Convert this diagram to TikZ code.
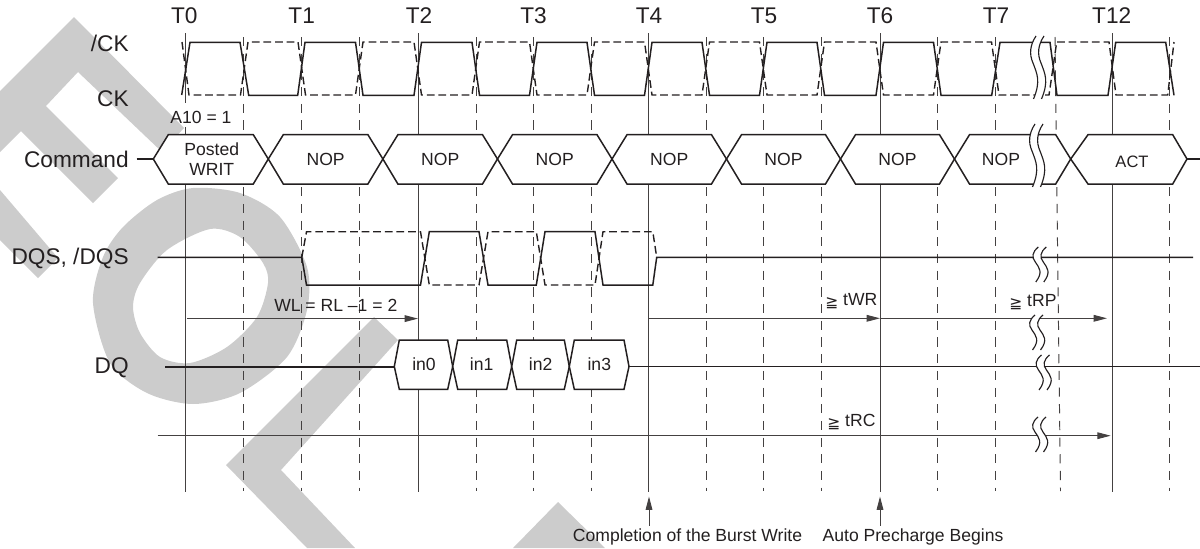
\documentclass[tikz,border=0pt]{standalone}
\usepackage{xcolor}
\usepackage{fontspec}
\setmainfont{Liberation Sans}
\newfontfamily\symfont{DejaVu Sans}
\usetikzlibrary{arrows.meta}
\definecolor{ink}{HTML}{231F20}
\definecolor{wmark}{HTML}{CCCCCC}
\tikzset{
  sigline/.style={draw=ink, line width=0.85pt, line join=miter},
  sigdash/.style={draw=ink, line width=0.8pt, dash pattern=on 4.4pt off 2.2pt},
  gridsolid/.style={draw=ink!85, line width=0.55pt},
  griddash/.style={draw=ink!85, line width=0.55pt, dash pattern=on 5.2pt off 4.3pt},
  sighex/.style={draw=ink, fill=white, line width=0.85pt},
  arr/.style={draw=ink!85, line width=0.55pt, -{Triangle[length=7.6pt,width=3.8pt]}},
  biglabel/.style={font=\fontsize{12.9}{14}\selectfont, text=ink, inner sep=0pt},
  midlabel/.style={font=\fontsize{10}{11.6}\selectfont, text=ink, inner sep=0pt, align=center},
}
\newcommand{\atleast}{\raisebox{-1.6pt}{\symfont\fontsize{8.8}{10}\selectfont ≧}}
% double wavy break mark, x / top y / height factor
\newcommand{\wavebreak}[3]{
  \begin{scope}[shift={(#1,#2)},yscale=#3]
    \fill[white] (0,0) .. controls (-6,5) and (-7,10) .. (-3,15) .. controls (1,21) and (5,25) .. (-2.5,35)
      -- (5.5,35) .. controls (13,25) and (9,21) .. (5,15) .. controls (1,10) and (2,5) .. (8,0) -- cycle;
    \draw[ink,line width=0.65pt] (0,0) .. controls (-6,5) and (-7,10) .. (-3,15) .. controls (1,21) and (5,25) .. (-2.5,35);
    \draw[ink,line width=0.65pt] (8,0) .. controls (2,5) and (1,10) .. (5,15) .. controls (9,21) and (13,25) .. (5.5,35);
  \end{scope}
}
\begin{document}
\begin{tikzpicture}[x=0.02cm,y=-0.02cm]
  \useasboundingbox (0,0) rectangle (1200,548);
  % watermark
  \fill[wmark] (0,91) -- (74,17) -- (184,128) -- (162,152) -- (78,72) -- (46,106) -- (118,178)
    -- (93,203) -- (21,131) -- (0,152) -- cycle;
  \fill[wmark] (0,190) -- (58,258) -- (38,278) -- (0,240) -- cycle;
  \fill[wmark,even odd rule]
    plot[smooth cycle] coordinates {(193,188) (240,193) (280,217) (307,267) (307,310) (287,357)
      (240,393) (193,404) (147,393) (110,363) (93,303) (103,257) (123,227) (157,200)}
    plot[smooth cycle] coordinates {(210,229) (240,237) (263,263) (268,283) (257,317) (227,347)
      (190,363) (160,357) (140,333) (133,307) (140,283) (167,250)};
  \fill[wmark] (374,317) -- (398,340) -- (281,470) -- (355,548) -- (307,548) -- (226,465) -- cycle;
  \fill[wmark] (558,502) -- (513,548) -- (605,548) -- cycle;
  % clock grid
  \foreach \x in {243.5,301.5,359.5,476.5,533.5,591.5,706.5,763.5,821.5,937.5,995.5,1169.5}
    {\draw[griddash] (\x,37) -- (\x,491);}
  \draw[griddash] (1055,37) -- (1060.5,491);
  \foreach \x in {418.5,648.5,880.5,1112.5}
    {\draw[gridsolid] (\x,33) -- (\x,492);}
  \draw[gridsolid] (185.5,33) -- (185.5,103);
  \draw[gridsolid] (185.5,127) -- (185.5,492);
  % clock pair
  \draw[sigdash] (182,42) -- (189,95) -- (240.5,95) -- (248,42) -- (298,42) -- (305.5,95) -- (355.5,95)
    -- (363,42) -- (414,42) -- (421.5,95) -- (472,95) -- (479.5,42) -- (529.5,42) -- (537,95)
    -- (587,95) -- (594.5,42) -- (644.5,42) -- (652,95) -- (702,95) -- (709.5,42) -- (759.5,42)
    -- (767,95) -- (817,95) -- (824.5,42) -- (876,42) -- (883.5,95) -- (933.5,95) -- (941,42)
    -- (991.5,42) -- (999,95) -- (1049,95) -- (1056.7,42) -- (1109,42) -- (1116,95) -- (1167.7,95) -- (1174,42);
  \draw[sigline] (181.7,95) -- (190,42.3) -- (240,42.3) -- (248.7,95.3) -- (297.7,95.3) -- (305,42.3)
    -- (355.5,42.3) -- (363,95.3) -- (414,95.3) -- (421.5,42.3) -- (472,42.3) -- (479.5,95.3) -- (529.5,95.3)
    -- (537,42.3) -- (587,42.3) -- (594.5,95.3) -- (644.5,95.3) -- (652,42.3) -- (702,42.3) -- (709.5,95.3)
    -- (759.5,95.3) -- (767,42.3) -- (817,42.3) -- (824.5,95.3) -- (876,95.3) -- (883.5,42.3) -- (933.5,42.3)
    -- (941,95.3) -- (991.7,95.3) -- (1000,42.3) -- (1050,42.3) -- (1057,95.3) -- (1108,95.3) -- (1115.7,42.3)
    -- (1165.7,42.3) -- (1174,95.3);
  \wavebreak{1036}{36}{1.8}
  \node[biglabel,anchor=east] (ckbar) at (129,43) {/CK};
  \node[biglabel,anchor=east] (ck) at (129,99) {CK};
  % clock names
  \foreach \n/\x in {T0/184.3,T1/301.7,T2/419,T3/533.5,T4/649,T5/764,T6/880,T7/996,T12/1111.7}
    {\node[biglabel] (lab\n) at (\x,16) {\n};}
  % command row
  \node[biglabel,anchor=east] (cmd) at (129,159) {Command};
  \coordinate (cmdin) at (136.7,159);
  \coordinate (cmdtip) at (153.3,159);
  \coordinate (cmdout) at (1200,159);
  \coordinate (cmdend) at (1187,159);
  \draw[sigline] (cmdin) -- (cmdtip);
  \draw[sigline] (cmdend) -- (cmdout);
  \foreach \a/\b in {153.3/268.3,268.3/382.9,382.9/497.5,497.5/612,612/726.5,726.5/840.5,840.5/954.5,954.5/1070.7}
    {\draw[sighex] (\a,159) -- ({\a+15},134.7) -- ({\b-15},134.7) -- (\b,159) -- ({\b-15},184) -- ({\a+15},184) -- cycle;}
  \draw[sighex] (1070.7,159) -- (1088,134.7) -- (1172.7,134.7) -- (1187,159) -- (1172.7,184) -- (1088,184) -- cycle;
  \node[midlabel] (posted) at (211.7,159) {Posted\\WRIT};
  \foreach \x in {325.6,440.2,554.7,669.2,783.5,897.5,1001}
    {\node[midlabel] (nop\x) at (\x,159.5) {NOP};}
  \node[midlabel,font=\fontsize{9.4}{11}\selectfont] (act) at (1132,161.5) {ACT};
  \wavebreak{1035}{124}{1.8}
  \node[midlabel] (aten) at (201,117) {A10 = 1};
  % data strobe
  \node[biglabel,anchor=east] (dqs) at (129,258) {DQS, /DQS};
  \draw[sigdash] (301.8,257.3) -- (306.5,231.7) -- (420.5,231.7) -- (429.3,285) -- (479,285) -- (488,231.7)
    -- (536.3,231.7) -- (545,285) -- (595,285) -- (603,231.7) -- (652.8,231.7) -- (656.7,257.3);
  \draw[sigline] (157.7,257.3) -- (301.8,257.3) -- (306.5,285) -- (420.5,285) -- (429.3,231.7) -- (479,231.7)
    -- (488,285) -- (536.3,285) -- (545,231.7) -- (595,231.7) -- (603,285) -- (652.8,285) -- (656.7,257.3)
    -- (1193,257.3);
  \wavebreak{1038.3}{247}{1}
  % latency arrows
  \coordinate (wlfrom) at (186.8,318.6);
  \coordinate (wlto) at (418,318.6);
  \coordinate (wrfrom) at (649,318.3);
  \coordinate (wrto) at (880,318.3);
  \coordinate (rpto) at (1107,318.3);
  \draw[arr] (wlfrom) -- (wlto);
  \draw[arr] (wrfrom) -- (wrto);
  \draw[arr] (wrto) -- (rpto);
  \node[midlabel] (wl) at (335.8,305) {WL = RL –1 = 2};
  \node[midlabel,anchor=west] (twr) at (825,301) {\atleast{} tWR};
  \node[midlabel,anchor=west] (trp) at (1009,302) {\atleast{} tRP};
  \wavebreak{1035}{315}{1}
  % data row
  \node[biglabel,anchor=east] (dq) at (129,368) {DQ};
  \draw[sigline] (165,366.8) -- (394.3,366.8);
  \draw[sigline] (629,366.3) -- (1200,366.3);
  \foreach \a/\b/\c/\t in {394.3/452.7/424/in0,452.7/511.7/481.7/in1,511.7/569.3/540.7/in2,569.3/629/599.3/in3}
    {\draw[sighex] (\a,366.5) -- ({\a+5},340) -- ({\b-5},340) -- (\b,366.5) -- ({\b-5},389.3) -- ({\a+5},389.3) -- cycle;
     \node[midlabel] (\t) at (\c,364) {\t};}
  \wavebreak{1041.5}{355}{1}
  % cycle time
  \coordinate (rcfrom) at (157.7,435.7);
  \coordinate (rcto) at (1110.7,435.7);
  \draw[arr] (rcfrom) -- (rcto);
  \node[midlabel,anchor=west] (trc) at (827,422) {\atleast{} tRC};
  \wavebreak{1038}{417}{1}
  % bottom notes
  \node[midlabel] (burst) at (687.5,536.7) {Completion of the Burst Write};
  \node[midlabel] (auto) at (913,536.7) {Auto Precharge Begins};
  \coordinate (burstfrom) at (649,525.5);
  \coordinate (burstto) at (649,496.5);
  \coordinate (autofrom) at (880,525.5);
  \coordinate (autoto) at (880,496.5);
  \draw[arr] (burstfrom) -- (burstto);
  \draw[arr] (autofrom) -- (autoto);
\end{tikzpicture}
\end{document}
